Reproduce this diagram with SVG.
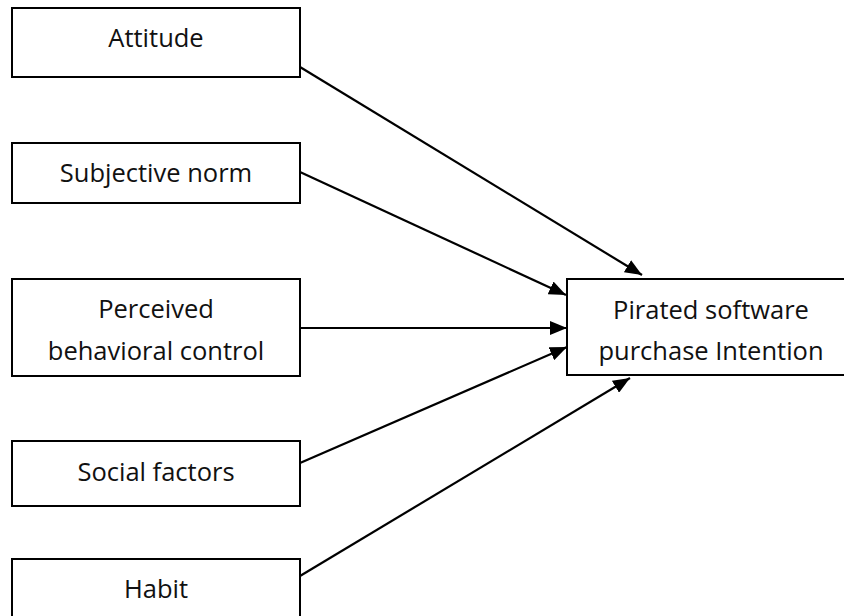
<svg xmlns="http://www.w3.org/2000/svg" width="844" height="616" viewBox="0 0 844 616">
<style>
.box{fill:#fff;stroke:#000;stroke-width:2}
.lbl{font-family:"Open Sans","Liberation Sans",sans-serif;font-size:25.5px;fill:#111;text-anchor:middle}
.conn{stroke:#000;stroke-width:2.2;fill:none;marker-end:url(#ah)}
</style>
<defs>
<marker id="ah" markerUnits="userSpaceOnUse" markerWidth="18" markerHeight="14" refX="17" refY="7" orient="auto">
<path d="M0,0 L17,7 L0,14 Z" fill="#000"/>
</marker>
</defs>
<rect width="844" height="616" fill="#fff"/>
<g id="connectors">
<line class="conn" x1="300" y1="67" x2="642" y2="275"/>
<line class="conn" x1="300" y1="172" x2="566" y2="295"/>
<line class="conn" x1="300" y1="328" x2="567" y2="328"/>
<line class="conn" x1="300" y1="463" x2="567" y2="347"/>
<line class="conn" x1="300" y1="576" x2="630" y2="378"/>
</g>
<g id="attitude">
<rect class="box" x="12" y="8" width="288" height="69"/>
<text class="lbl" x="156" y="47">Attitude</text>
</g>
<g id="subjective-norm">
<rect class="box" x="12" y="143" width="288" height="60"/>
<text class="lbl" x="156" y="182">Subjective norm</text>
</g>
<g id="perceived-behavioral-control">
<rect class="box" x="12" y="279" width="288" height="97"/>
<text class="lbl" x="156" y="318">Perceived</text>
<text class="lbl" x="156" y="360">behavioral control</text>
</g>
<g id="social-factors">
<rect class="box" x="12" y="441" width="288" height="65"/>
<text class="lbl" x="156" y="481">Social factors</text>
</g>
<g id="habit">
<rect class="box" x="12" y="559" width="288" height="70"/>
<text class="lbl" x="156" y="598">Habit</text>
</g>
<g id="pirated-software-purchase-intention">
<rect class="box" x="567" y="279" width="288" height="96"/>
<text class="lbl" x="711" y="319">Pirated software</text>
<text class="lbl" x="711" y="360">purchase Intention</text>
</g>
</svg>
